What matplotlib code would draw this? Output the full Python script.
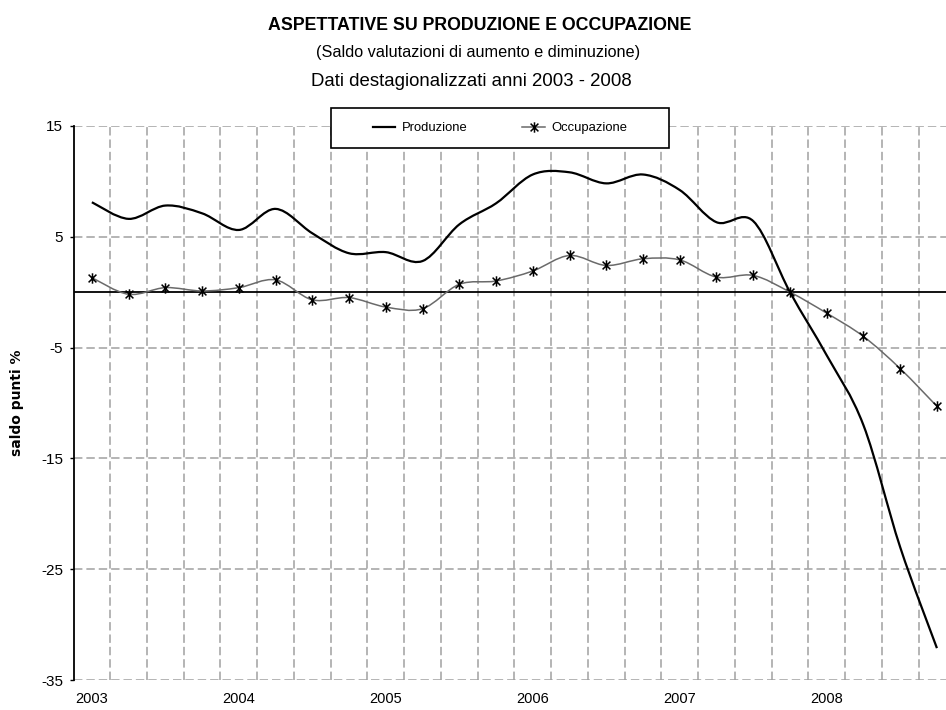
import numpy as np
import matplotlib
matplotlib.use("Agg")
import matplotlib.pyplot as plt
from matplotlib.path import Path
from matplotlib.patches import PathPatch, Rectangle
from matplotlib.lines import Line2D

# ======== ASPETTATIVE SU PRODUZIONE E OCCUPAZIONE ========

# trimestri 2003 Q1 - 2008 Q4
trimestri = list(range(24))
anni = ["2003", "2004", "2005", "2006", "2007", "2008"]

produzione = [8.1, 6.6, 7.8, 7.1, 5.6, 7.5, 5.3, 3.5, 3.6, 2.8, 6.1, 8.0,
              10.6, 10.8, 9.8, 10.6, 9.2, 6.3, 6.4, 0.0, -5.7, -12.0, -23.0, -32.1]
occupazione = [1.3, -0.2, 0.4, 0.1, 0.4, 1.1, -0.7, -0.5, -1.35, -1.5, 0.7, 1.0,
               1.9, 3.3, 2.4, 3.0, 2.9, 1.35, 1.5, 0.0, -1.9, -4.0, -6.9, -10.3]

plt.rcParams["font.family"] = ["Liberation Sans", "DejaVu Sans"]
plt.rcParams["axes.unicode_minus"] = False


def curva_smussata(x, y):
    # curva di Bezier tipo Catmull-Rom passante per i punti (come le linee smussate di Excel)
    n = len(x)
    verts = [(x[0], y[0])]
    codes = [Path.MOVETO]
    for i in range(n - 1):
        xa, ya = (x[i - 1], y[i - 1]) if i > 0 else (x[i], y[i])
        xd, yd = (x[i + 2], y[i + 2]) if i + 2 < n else (x[i + 1], y[i + 1])
        c1 = (x[i] + (x[i + 1] - xa) / 6, y[i] + (y[i + 1] - ya) / 6)
        c2 = (x[i + 1] - (xd - x[i]) / 6, y[i + 1] - (yd - y[i]) / 6)
        verts += [c1, c2, (x[i + 1], y[i + 1])]
        codes += [Path.CURVE4] * 3
    return Path(verts, codes)


# marcatore ad asterisco (linea verticale + X)
asterisco = Path([(0, -1), (0, 1), (-0.75, -0.75), (0.75, 0.75), (-0.75, 0.75), (0.75, -0.75)],
                 [Path.MOVETO, Path.LINETO] * 3)

W, H = 946, 710
AX_L, AX_R, AX_T, AX_B = 73.5, 955.3, 125.7, 680.3
fig = plt.figure(figsize=(W / 100, H / 100), dpi=100)
ax = fig.add_axes([AX_L / W, (H - AX_B) / H, (AX_R - AX_L) / W, (AX_B - AX_T) / H])

ax.set_xlim(-0.5, 23.5)
ax.set_ylim(-35, 15)

# griglia
grid_style = dict(color="#a0a0a0", lw=1.1, ls=(0, (5.5, 2.6)))
ax.set_yticks([15, 5, -5, -15, -25, -35])
ax.yaxis.grid(True, **grid_style)
ax.set_xticks(trimestri[::4])
ax.set_xticklabels(anni, fontsize=10.5)
ax.set_xticks(np.arange(0.5, 23.5, 1), minor=True)
ax.xaxis.grid(True, which="minor", **grid_style)
ax.xaxis.grid(False, which="major")
ax.set_axisbelow(True)

ax.axhline(0, color="black", lw=1.3, zorder=2)

for s in ["top", "right", "bottom"]:
    ax.spines[s].set_visible(False)
ax.spines["left"].set_linewidth(1.3)

ax.tick_params(axis="x", which="both", length=0, pad=8.2)
ax.tick_params(axis="y", length=3, width=1, pad=4.5, labelsize=11)

# serie
ax.add_patch(PathPatch(curva_smussata(trimestri, produzione), fill=False,
                       edgecolor="black", lw=1.6, zorder=3))
ax.add_patch(PathPatch(curva_smussata(trimestri, occupazione), fill=False,
                       edgecolor="#6a6a6a", lw=1.1, zorder=3))
ax.plot(trimestri, occupazione, ls="none", marker=asterisco, ms=7.5,
        mec="black", mew=1.1, zorder=4, clip_on=False)

ax.set_ylabel("saldo punti %", fontfamily="DejaVu Sans", fontweight="bold", fontsize=10)
ax.yaxis.set_label_coords((24 - AX_L) / (AX_R - AX_L), 0.5)

# titoli
fig.text(480 / W, 1 - 30.5 / H, "ASPETTATIVE SU PRODUZIONE E OCCUPAZIONE",
         ha="center", va="baseline", fontweight="bold", fontsize=12.8)
fig.text(478.5 / W, 1 - 56.7 / H, "(Saldo valutazioni di aumento e diminuzione)",
         ha="center", va="baseline", fontsize=11.7)
fig.text(471 / W, 1 - 86 / H, "Dati destagionalizzati anni 2003 - 2008",
         ha="center", va="baseline", fontsize=13.4)

# legenda
fig.add_artist(Rectangle((331 / W, 1 - 148.3 / H), (669.3 - 331) / W, 40 / H,
                         transform=fig.transFigure, facecolor="white",
                         edgecolor="black", lw=1.2, zorder=5))
handles = [Line2D([], [], color="black", lw=1.6),
           Line2D([], [], color="#6a6a6a", lw=1.1, marker=asterisco, ms=7.5,
                  mec="black", mew=1.1)]
leg = fig.legend(handles, ["Produzione", "Occupazione"], loc="center",
                 bbox_to_anchor=(366 / W, 1 - 148.3 / H, (634 - 366) / W, 40 / H),
                 mode="expand", ncol=2, frameon=False, borderpad=0,
                 handlelength=1.75, handletextpad=0.5, fontsize=9.4)
leg.set_zorder(6)

fig.savefig("out.png", dpi=100)
